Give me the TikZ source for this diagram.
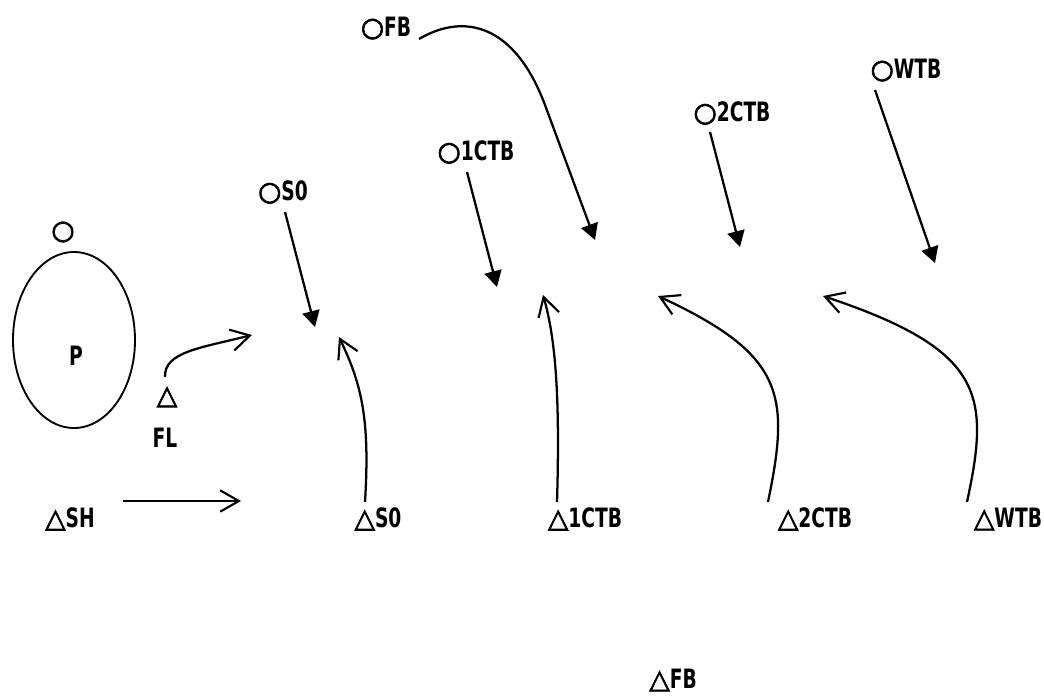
\documentclass[tikz,border=0pt]{standalone}
\usepackage{fontspec}
\setmainfont{DejaVu Sans}[FakeStretch=0.7]
\newfontfamily\symfont{DejaVu Sans}[FakeBold=2.5]
\usetikzlibrary{arrows.meta,shapes.geometric}

% ring and triangle markers, about as tall as the capitals
\newcommand\markO{{\symfont\fontsize{20}{20}\selectfont ○}}
\newcommand\markT{{\symfont\fontsize{20}{20}\selectfont △}}

\begin{document}
\begin{tikzpicture}[x=0.75pt,y=-0.75pt,
  lbl/.style={inner sep=0pt, font=\bfseries\fontsize{20}{22}\selectfont},
  conn/.style={line width=1.7pt},
  fillarrow/.style={conn,-{Triangle[length=12pt,width=13pt]}},
  openarrow/.style={conn,-{Straight Barb[length=14pt,width=16pt,line width=1.6pt]}}]
\useasboundingbox (0,0) rectangle (1044,697);

% body with its marker
\node[draw, line width=1.4pt, ellipse, minimum width=91.5pt, minimum height=132pt, inner sep=0pt] (body) at (74,340) {};
\node[lbl] (bodyP) at (76,356) {P};
\node[lbl] (bodyO) at (63,232) {\markO};

% left-hand labels
\node[lbl] (flT) at (167,397) {\markT};
\node[lbl] (flL) at (165,438) {FL};
\node[lbl] (sh)  at (70,519) {\markT SH};

% upper labels
\node[lbl] (oS0)   at (283,192) {\markO S0};
\node[lbl] (oFB)   at (386,28)  {\markO FB};
\node[lbl] (o1CTB) at (476,152) {\markO 1CTB};
\node[lbl] (o2CTB) at (732,113) {\markO 2CTB};
\node[lbl] (oWTB)  at (906,70)  {\markO WTB};

% lower labels
\node[lbl] (tS0)   at (378,519) {\markT S0};
\node[lbl] (t1CTB) at (585,519) {\markT 1CTB};
\node[lbl] (t2CTB) at (815,519) {\markT 2CTB};
\node[lbl] (tWTB)  at (1008,519) {\markT WTB};
\node[lbl] (tFB)   at (673,680) {\markT FB};

% arrow ends
\coordinate (flA) at (165,377);  \coordinate (flB) at (252,335);
\coordinate (shA) at (123,501);  \coordinate (shB) at (241,501);
\coordinate (s0A) at (285,212);  \coordinate (s0B) at (315,327);
\coordinate (fbA) at (419,39);   \coordinate (fbM) at (545,105); \coordinate (fbB) at (595,240);
\coordinate (c1A) at (467,172);  \coordinate (c1B) at (497,287);
\coordinate (c2A) at (710,132);  \coordinate (c2B) at (740,247);
\coordinate (wA)  at (875,90);   \coordinate (wB)  at (935,263);
\coordinate (ls0A) at (365,502); \coordinate (ls0B) at (339,337);
\coordinate (l1A) at (557,502);  \coordinate (l1B) at (543,295);
\coordinate (l2A) at (768,502);  \coordinate (l2B) at (658,296);
\coordinate (lwA) at (967,502);  \coordinate (lwB) at (823,296);

% open arrows rising from below
\draw[openarrow] (flA) .. controls (164,352) and (200,348) .. (flB);
\draw[openarrow] (shA) -- (shB);
\draw[openarrow] (ls0A) .. controls (370,420) and (362,385) .. (ls0B);
\draw[openarrow] (l1A) .. controls (560,400) and (556,340) .. (l1B);
\draw[openarrow] (l2A) .. controls (790,395) and (785,355) .. (l2B);
\draw[openarrow] (lwA) .. controls (990,395) and (985,350) .. (lwB);

% filled arrows falling from above
\draw[fillarrow] (s0A) -- (s0B);
\draw[fillarrow] (fbA) .. controls (465,12) and (515,25) .. (fbM) -- (fbB);
\draw[fillarrow] (c1A) -- (c1B);
\draw[fillarrow] (c2A) -- (c2B);
\draw[fillarrow] (wA) -- (wB);
\end{tikzpicture}
\end{document}
